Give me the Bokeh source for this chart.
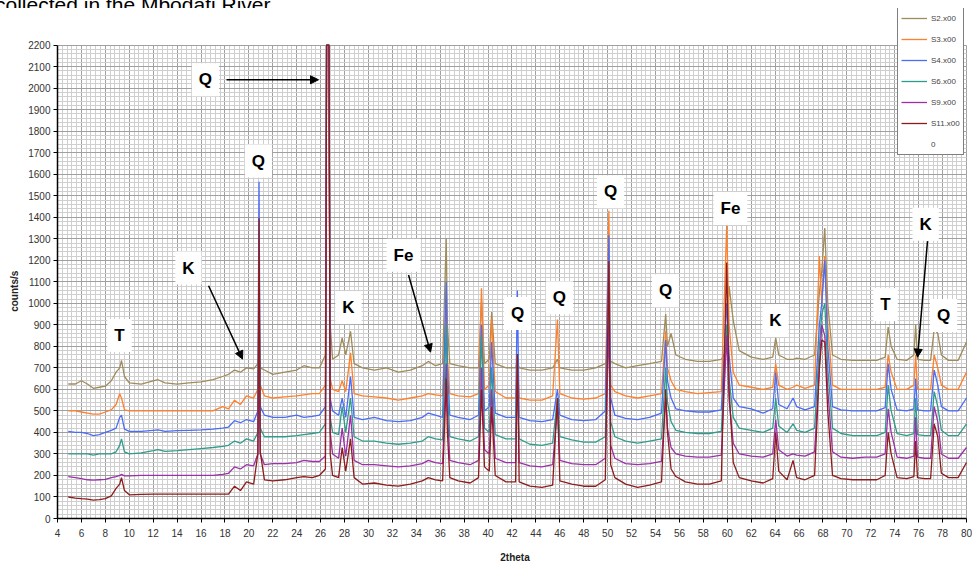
from bokeh.plotting import figure
from bokeh.models import (Range1d, SingleIntervalTicker, Label, Arrow, NormalHead,
                          Legend, LegendItem, Div)
from bokeh.layouts import column
from bokeh.embed import file_html
from bokeh.resources import INLINE

# ---------------- data ----------------
two_theta = [
    4.9, 5.5, 6.0, 6.5, 7.0, 7.5, 8.0, 8.5, 8.9, 9.2,
    9.35, 9.6, 10.0, 11.0, 12.0, 12.4, 13.0, 14.0, 15.0, 16.0,
    17.0, 17.8, 18.3, 18.8, 19.3, 19.8, 20.4, 20.75, 20.85, 20.95,
    21.3, 22.0, 23.0, 24.0, 24.6, 25.3, 25.9, 26.4, 26.5, 26.7,
    26.8, 27.0, 27.5, 27.8, 28.1, 28.5, 28.8, 29.5, 30.5, 31.5,
    32.5, 33.5, 34.5, 35.0, 35.6, 36.2, 36.5, 36.6, 36.8, 37.5,
    38.5, 39.2, 39.45, 39.7, 40.1, 40.3, 40.6, 41.5, 42.3, 42.45,
    42.6, 43.5, 44.5, 45.4, 45.8, 46.0, 47.0, 48.0, 49.0, 49.8,
    50.1, 50.25, 50.6, 51.5, 52.5, 53.5, 54.5, 54.85, 55.0, 55.3,
    55.7, 56.5, 57.5, 58.5, 59.5, 59.95, 60.15, 60.5, 61.0, 62.0,
    63.0, 63.8, 64.05, 64.3, 65.0, 65.5, 65.8, 66.5, 67.3, 67.7,
    67.9, 68.15, 68.4, 68.8, 69.5, 70.5, 71.5, 72.5, 73.2, 73.45,
    73.7, 74.2, 75.0, 75.6, 75.75, 75.9, 76.5, 77.0, 77.3, 77.6,
    77.9, 78.5, 79.3, 80.0]

s2 = [625, 625, 640, 625, 605, 610, 615, 640, 680, 700,
      735, 660, 630, 625, 640, 645, 630, 625, 630, 635,
      645, 660, 670, 690, 680, 700, 695, 720, 760, 700,
      690, 670, 680, 690, 710, 700, 700, 760, 2200, 2200,
      900, 740, 760, 840, 760, 870, 720, 700, 690, 700,
      680, 690, 710, 730, 710, 720, 1300, 900, 720, 710,
      700, 700, 1010, 720, 740, 960, 720, 700, 700, 730,
      700, 690, 690, 700, 740, 700, 690, 690, 700, 720,
      760, 730, 720, 700, 710, 720, 730, 950, 800, 860,
      760, 740, 730, 730, 740, 780, 1080, 920, 780, 750,
      740, 750, 840, 760, 740, 740, 745, 740, 760, 1050,
      1150, 1350, 1000, 760, 740, 735, 735, 735, 750, 890,
      800, 740, 735, 760, 900, 740, 735, 735, 880, 860,
      760, 735, 735, 820]

s3 = [500, 500, 495, 490, 485, 485, 495, 505, 530, 580,
      560, 505, 500, 500, 500, 500, 500, 500, 500, 500,
      500, 520, 510, 550, 530, 570, 560, 600, 1020, 620,
      570, 560, 565, 570, 575, 580, 580, 620, 2200, 2200,
      650, 600, 590, 640, 590, 770, 580, 570, 565, 560,
      550, 560, 570, 580, 575, 570, 1060, 750, 580, 570,
      565, 580, 1070, 600, 620, 930, 590, 560, 560, 720,
      560, 550, 550, 570, 925, 580, 560, 555, 560, 580,
      1430, 620, 590, 570, 560, 570, 580, 870, 700, 640,
      600, 590, 580, 585, 590, 1360, 900, 680, 620, 610,
      600, 610, 720, 620, 600, 610, 620, 605, 620, 1220,
      1000, 1220, 900, 620, 600, 600, 600, 600, 610, 760,
      680, 600, 600, 620, 760, 600, 600, 600, 760, 700,
      620, 600, 600, 680]

s4 = [405, 400, 400, 395, 385, 390, 400, 410, 420, 470,
      480, 415, 405, 405, 410, 412, 405, 408, 410, 412,
      415, 420, 425, 455, 445, 460, 450, 500, 1565, 520,
      480, 470, 470, 480, 470, 475, 480, 520, 2200, 2200,
      560, 500, 480, 560, 470, 660, 470, 460, 470, 455,
      450, 455, 470, 490, 480, 470, 1100, 700, 480, 470,
      460, 480, 900, 500, 520, 820, 490, 470, 470, 1060,
      470, 455, 450, 460, 600, 480, 460, 455, 460, 500,
      1316, 560, 480, 465, 460, 470, 490, 830, 640, 560,
      510, 500, 495, 495, 505, 1000, 760, 560, 520, 510,
      490, 510, 680, 530, 510, 560, 520, 505, 520, 900,
      1000, 1200, 800, 520, 505, 500, 500, 500, 515, 720,
      600, 505, 500, 510, 650, 505, 500, 500, 690, 620,
      520, 500, 500, 560]

s6 = [300, 300, 300, 300, 295, 300, 300, 300, 310, 340,
      370, 310, 300, 305, 315, 320, 312, 315, 320, 325,
      330, 335, 340, 360, 350, 370, 360, 400, 1130, 420,
      380, 380, 380, 385, 390, 395, 400, 440, 2200, 2200,
      470, 400, 390, 520, 400, 560, 380, 360, 360, 350,
      345, 350, 360, 380, 370, 365, 900, 600, 380, 370,
      360, 380, 850, 420, 400, 700, 390, 370, 370, 760,
      370, 345, 340, 350, 560, 380, 365, 355, 355, 380,
      1000, 450, 380, 360, 350, 360, 370, 700, 540, 450,
      410, 400, 395, 395, 405, 900, 650, 470, 420, 410,
      400, 420, 560, 430, 400, 440, 410, 400, 420, 800,
      950, 1000, 700, 420, 395, 385, 385, 385, 400, 620,
      500, 395, 385, 395, 560, 390, 385, 385, 590, 520,
      410, 385, 385, 440]

s9 = [195, 190, 185, 180, 178, 180, 182, 190, 195, 200,
      205, 198, 198, 200, 200, 200, 200, 200, 200, 200,
      200, 205, 210, 240, 230, 250, 245, 300, 760, 300,
      250, 255, 255, 260, 270, 265, 265, 290, 2200, 2200,
      400, 300, 280, 420, 290, 480, 270, 250, 250, 245,
      240, 245, 255, 270, 260, 255, 720, 500, 270, 260,
      250, 270, 700, 320, 300, 600, 280, 260, 260, 740,
      260, 245, 240, 250, 520, 270, 255, 250, 250, 280,
      900, 340, 280, 255, 250, 255, 265, 560, 420, 330,
      300, 290, 285, 285, 295, 850, 550, 350, 300, 290,
      285, 300, 460, 320, 290, 300, 295, 290, 310, 700,
      900, 850, 600, 310, 285, 280, 285, 285, 300, 510,
      400, 285, 280, 290, 470, 285, 280, 280, 520, 450,
      300, 280, 280, 330]

s11 = [100, 95, 92, 90, 85, 88, 92, 105, 140, 160,
       190, 130, 110, 112, 113, 113, 113, 113, 113, 113,
       113, 113, 113, 150, 130, 170, 160, 300, 1395, 310,
       180, 175, 180, 190, 195, 190, 200, 230, 2200, 2200,
       300, 200, 190, 330, 220, 370, 190, 160, 165, 155,
       150, 160, 175, 190, 180, 175, 650, 400, 190, 175,
       165, 190, 600, 240, 220, 520, 200, 170, 170, 765,
       170, 150, 145, 155, 560, 175, 160, 150, 150, 180,
       1197, 250, 190, 160, 145, 155, 170, 600, 400, 230,
       195, 170, 160, 160, 175, 1190, 600, 260, 190, 175,
       165, 185, 400, 220, 180, 270, 190, 180, 200, 700,
       830, 820, 500, 200, 185, 180, 180, 180, 200, 400,
       300, 190, 185, 195, 360, 190, 185, 185, 440, 380,
       210, 190, 190, 260]

zero_x = []
zero_y = []

series_names = ["S2.x00", "S3.x00", "S4.x00", "S6.x00", "S9.x00", "S11.x00", "0"]
series_values = [s2, s3, s4, s6, s9, s11, zero_y]
series_colors = ["#A08B5B", "#FF7F2A", "#4A6CF7", "#2E9C8C", "#9B30A8", "#8E1B1B", "#8C8C8C"]

x_ticks_start, x_ticks_end = 4, 80
y_ticks_start, y_ticks_end = 0, 2200

# phase annotations: (text, 2theta, counts)
phase_labels = [
    ("T", 9.18, 851), ("K", 14.95, 1164), ("Q", 16.37, 2039), ("Q", 20.8, 1661),
    ("K", 28.33, 980), ("Fe", 32.93, 1224), ("Q", 42.46, 953), ("Q", 45.97, 1026),
    ("Q", 50.24, 1519), ("Q", 54.84, 1059), ("Fe", 60.27, 1441), ("K", 64.03, 920),
    ("T", 73.23, 994), ("K", 76.58, 1367), ("Q", 78.08, 944),
]
# arrows: (x_start, y_start, x_end, y_end)
phase_arrows = [
    (18.13, 2039, 25.82, 2039),
    (16.63, 1082, 19.47, 741),
    (33.35, 1132, 35.19, 773),
    (76.74, 1289, 75.91, 750),
]

caption_text = "collected in the Mbodati River."
x_title = "2theta"
y_title = "counts/s"

FONT = "Liberation Sans"

# the frame is extended up to the top of the canvas and to the right edge so the
# legend (which sits partly outside the plotting area) is not clipped
fig_w, fig_h = 972, 557
p = figure(width=fig_w, height=fig_h,
           x_range=Range1d(4, 80.502), y_range=Range1d(0, 2370.3),
           output_backend="svg", toolbar_location=None,
           min_border_left=57, min_border_right=0, min_border_top=0, min_border_bottom=42,
           margin=(0, 0, 0, 0), background_fill_color="white",
           border_fill_color="white", outline_line_color=None)

p.xaxis.ticker = SingleIntervalTicker(interval=2, num_minor_ticks=5)
p.yaxis.ticker = SingleIntervalTicker(interval=100, num_minor_ticks=5)
p.xaxis.bounds = (x_ticks_start, x_ticks_end)
p.yaxis.bounds = (y_ticks_start, y_ticks_end)

for g in (p.xgrid, p.ygrid):
    g.grid_line_color = "#A0A0A0"
    g.grid_line_width = 1
    g.minor_grid_line_color = "#CFCFCF"
    g.minor_grid_line_width = 1
p.xgrid.bounds = (x_ticks_start, x_ticks_end)
p.xgrid.cross_bounds = (y_ticks_start, y_ticks_end)
p.ygrid.bounds = (y_ticks_start, y_ticks_end)
p.ygrid.cross_bounds = (x_ticks_start, x_ticks_end)

for ax in (p.xaxis, p.yaxis):
    ax.axis_line_color = "black"
    ax.axis_line_width = 1.5
    ax.major_tick_line_color = "black"
    ax.major_tick_out = 4
    ax.major_tick_in = 0
    ax.minor_tick_line_color = None
    ax.major_label_text_font = FONT
    ax.major_label_text_font_size = "10px"
    ax.major_label_text_color = "#333333"
    ax.axis_label_text_font = FONT
    ax.axis_label_text_font_size = "10px"
    ax.axis_label_text_font_style = "bold"
    ax.axis_label_text_color = "#222222"

p.xaxis.axis_label = x_title
# trailing no-break spaces push the rotated title down to where the reference has it
p.yaxis.axis_label = y_title + "\u00a0" * 20
p.xaxis.major_label_standoff = 6
p.xaxis.axis_label_standoff = 12
p.yaxis.major_label_standoff = 3
p.yaxis.axis_label_standoff = 5

renderers = []
for name, ys, col in zip(series_names, series_values, series_colors):
    xs = two_theta if len(ys) == len(two_theta) else zero_x
    r = p.line(xs, ys, line_color=col, line_width=1.3)
    renderers.append(r)

legend = Legend(items=[LegendItem(label=n, renderers=[r]) for n, r in zip(series_names, renderers)],
                location=(840, 363), orientation="vertical",
                background_fill_color="white", background_fill_alpha=1.0,
                border_line_color="black", border_line_width=1,
                label_text_font=FONT, label_text_font_size="8px", label_text_color="#444444",
                glyph_width=26, glyph_height=14, label_height=14, label_standoff=4,
                spacing=7, padding=3, margin=0)
p.add_layout(legend, "center")

for txt, xv, yv in phase_labels:
    p.add_layout(Label(x=xv, y=yv, text=txt, text_align="center", text_baseline="middle",
                       text_font=FONT, text_font_size="17px", text_font_style="bold",
                       text_color="black", background_fill_color="white",
                       background_fill_alpha=1.0, padding=7))

for xs_, ys_, xe_, ye_ in phase_arrows:
    p.add_layout(Arrow(x_start=xs_, y_start=ys_, x_end=xe_, y_end=ye_,
                       line_color="black", line_width=1.5,
                       end=NormalHead(size=8, fill_color="black", line_color="black")))

caption = Div(
    text=('<div style="font-family: \'Liberation Sans\', Arial, sans-serif; font-size: 21px; '
          'line-height: 24px; margin-top: -13px; margin-left: -5px; white-space: nowrap; '
          'color: black;">' + caption_text + '</div>'),
    width=fig_w, height=8, margin=(0, 0, 0, 0), styles={"overflow": "hidden"})

layout = column(caption, p, spacing=0)

open("out.html", "w").write(file_html(layout, INLINE))
